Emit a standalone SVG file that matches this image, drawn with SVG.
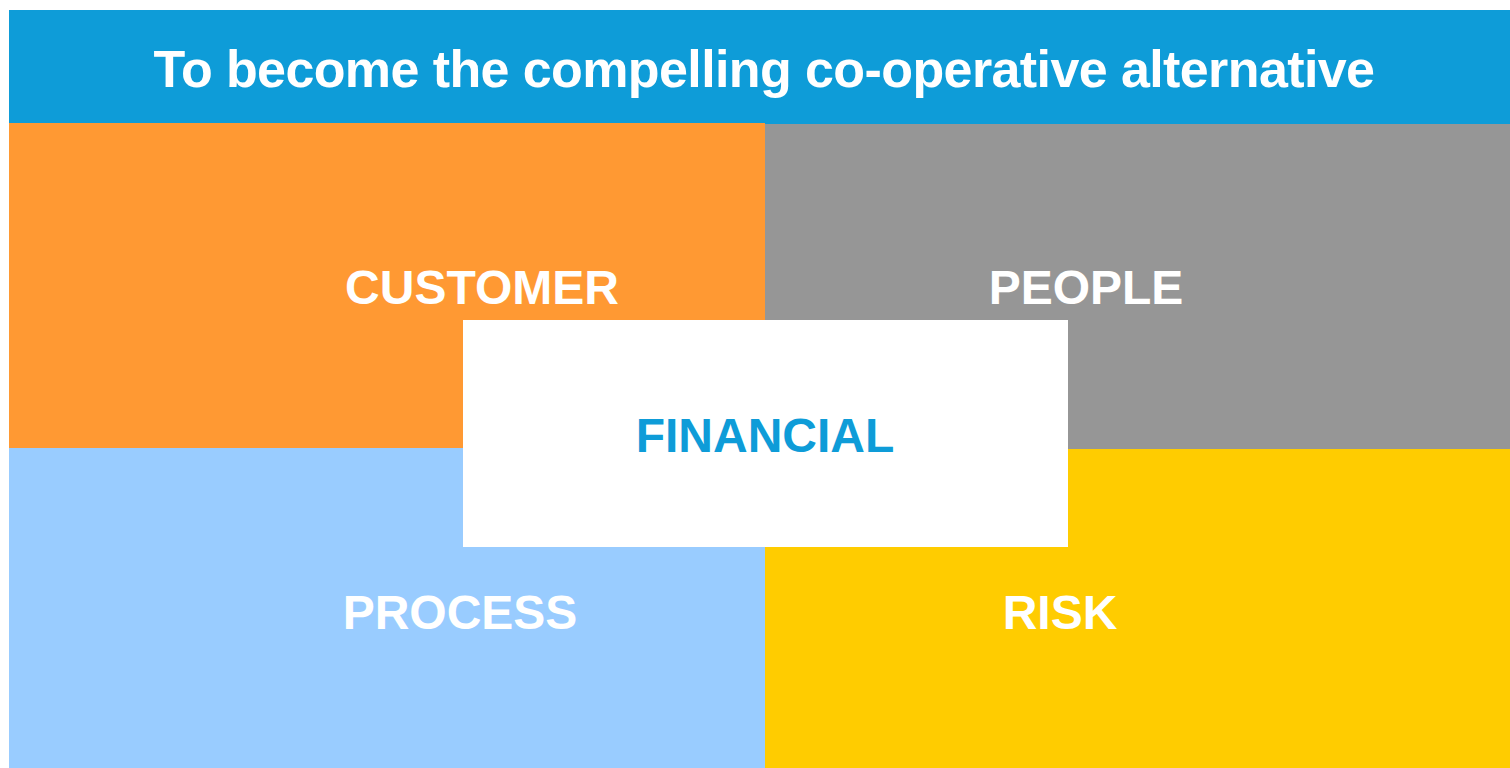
<svg xmlns="http://www.w3.org/2000/svg" width="1510" height="768" viewBox="0 0 1510 768">
  <style>
    .lbl { font-family: "Liberation Sans", Arial, sans-serif; font-weight: bold; text-anchor: middle; }
    .white { fill: #ffffff; }
    .q { font-size: 48px; }
  </style>
  <rect x="0" y="0" width="1510" height="768" fill="#ffffff"/>

  <g id="vision">
    <rect x="9" y="10" width="1501" height="114" fill="#0e9cd8"/>
    <text class="lbl white" x="764" y="87" font-size="52" letter-spacing="-0.6">To become the compelling co-operative alternative</text>
  </g>

  <g id="customer">
    <rect x="9" y="123" width="756" height="325" fill="#ff9933"/>
    <text class="lbl white q" x="482" y="304">CUSTOMER</text>
  </g>

  <g id="people">
    <rect x="765" y="124" width="745" height="325" fill="#969696"/>
    <text class="lbl white q" x="1086" y="304">PEOPLE</text>
  </g>

  <g id="process">
    <rect x="9" y="448" width="756" height="320" fill="#99ccff"/>
    <text class="lbl white q" x="460" y="629">PROCESS</text>
  </g>

  <g id="risk">
    <rect x="765" y="449" width="745" height="319" fill="#ffcc00"/>
    <text class="lbl white q" x="1060" y="629">RISK</text>
  </g>

  <g id="financial">
    <rect x="463" y="320" width="605" height="227" fill="#ffffff"/>
    <text class="lbl q" x="765" y="452" fill="#0e9cd8">FINANCIAL</text>
  </g>

  <g id="connectors"/>
</svg>
